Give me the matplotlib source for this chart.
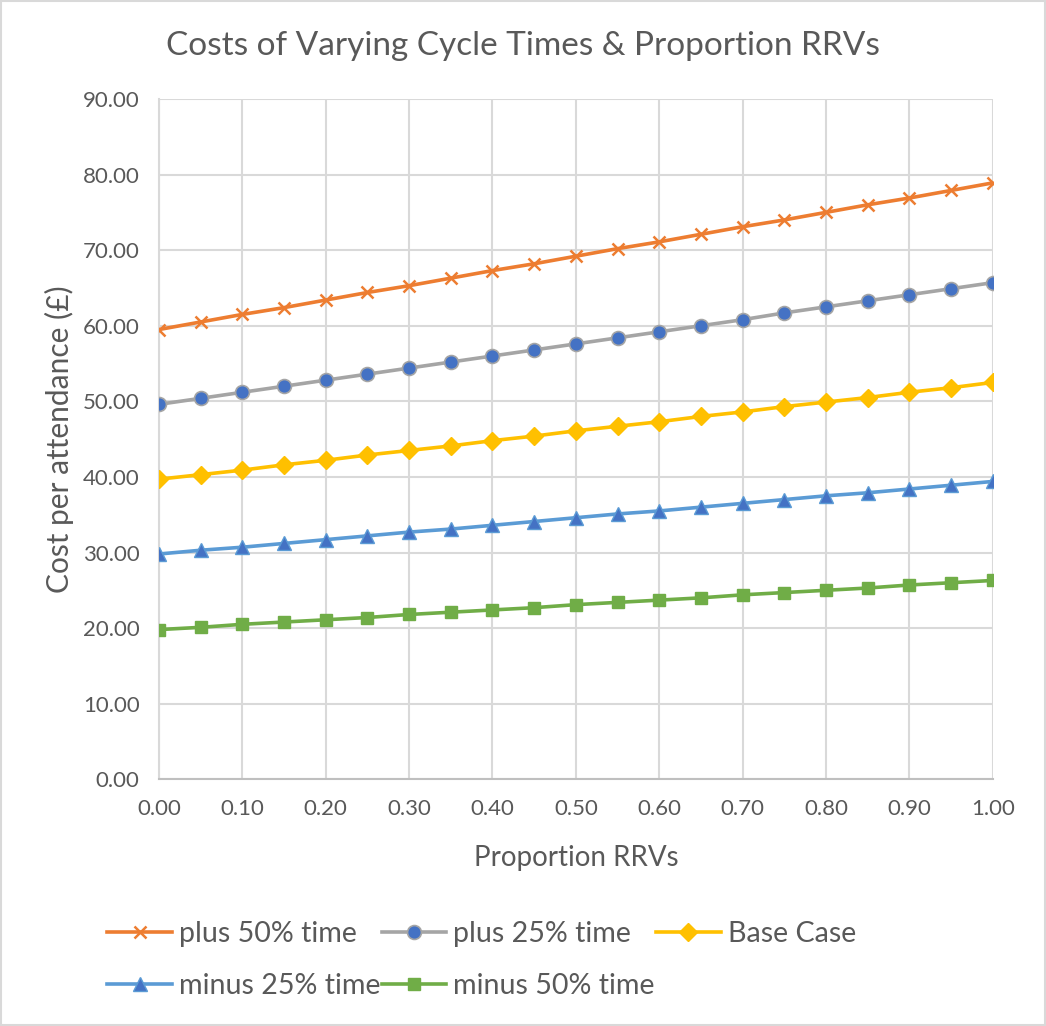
import matplotlib.pyplot as plt
import numpy as np

plt.rcParams['font.family'] = ['Lato', 'DejaVu Sans']

# proportion of RRVs (x axis)
proportion = [0.00, 0.05, 0.10, 0.15, 0.20, 0.25, 0.30, 0.35, 0.40, 0.45, 0.50,
              0.55, 0.60, 0.65, 0.70, 0.75, 0.80, 0.85, 0.90, 0.95, 1.00]

plus_50 = [59.5, 60.5, 61.5, 62.4, 63.4, 64.4, 65.3, 66.3, 67.3, 68.2, 69.2,
           70.2, 71.1, 72.1, 73.1, 74.0, 75.0, 76.0, 76.9, 77.9, 78.9]
plus_25 = [49.6, 50.4, 51.2, 52.0, 52.8, 53.6, 54.4, 55.2, 56.0, 56.8, 57.6,
           58.4, 59.2, 60.0, 60.8, 61.7, 62.5, 63.3, 64.1, 64.9, 65.7]
base_case = [39.7, 40.3, 40.9, 41.6, 42.2, 42.9, 43.5, 44.1, 44.8, 45.4, 46.1,
             46.7, 47.3, 48.0, 48.6, 49.3, 49.9, 50.5, 51.2, 51.8, 52.5]
minus_25 = [29.8, 30.3, 30.7, 31.2, 31.7, 32.2, 32.7, 33.1, 33.6, 34.1, 34.6,
            35.1, 35.5, 36.0, 36.5, 37.0, 37.5, 37.9, 38.4, 38.9, 39.4]
minus_50 = [19.8, 20.1, 20.5, 20.8, 21.1, 21.4, 21.8, 22.1, 22.4, 22.7, 23.1,
            23.4, 23.7, 24.0, 24.4, 24.7, 25.0, 25.3, 25.7, 26.0, 26.3]

x_ticks = [0.0, 0.1, 0.2, 0.3, 0.4, 0.5, 0.6, 0.7, 0.8, 0.9, 1.0]
y_ticks = [0, 10, 20, 30, 40, 50, 60, 70, 80, 90]

txt = '#595959'
grid = '#D9D9D9'

fig = plt.figure(figsize=(10.46, 10.26), dpi=100)
ax = fig.add_axes([0.152, 0.2405, 0.797, 0.663])

ax.plot(proportion, plus_50, color='#ED7D31', lw=2.6, marker='x', ms=9,
        mew=1.8, mec='#ED7D31', label='plus 50% time', zorder=3)
ax.plot(proportion, plus_25, color='#A5A5A5', lw=2.6, marker='o', ms=10,
        mfc='#4472C4', mec='#A5A5A5', mew=1.2, label='plus 25% time', zorder=3)
ax.plot(proportion, base_case, color='#FFC000', lw=2.6, marker='D', ms=9,
        mfc='#FFC000', mec='#FFC000', label='Base Case', zorder=3)
ax.plot(proportion, minus_25, color='#5B9BD5', lw=2.6, marker='^', ms=10,
        mfc='#4472C4', mec='#5B9BD5', mew=1, label='minus 25% time', zorder=3)
ax.plot(proportion, minus_50, color='#70AD47', lw=2.6, marker='s', ms=9,
        mfc='#70AD47', mec='#70AD47', label='minus 50% time', zorder=3)

ax.set_xlim(0, 1)
ax.set_ylim(0, 90)
ax.set_xticks(x_ticks)
ax.set_yticks(y_ticks)
ax.set_xticklabels(['%.2f' % v for v in x_ticks])
ax.set_yticklabels(['%.2f' % v for v in y_ticks])
ax.tick_params(length=0, labelsize=16, colors=txt)
ax.tick_params(axis='y', pad=14)
ax.tick_params(axis='x', pad=14)
ax.grid(True, color=grid, lw=1.5)
ax.set_axisbelow(True)
for s in ['top', 'right']:
    ax.spines[s].set_visible(False)
ax.spines['left'].set_color(grid)
ax.spines['left'].set_linewidth(1.5)
ax.spines['bottom'].set_color('#BFBFBF')
ax.spines['bottom'].set_linewidth(1.5)

ax.set_xlabel('Proportion RRVs', fontsize=20, color=txt, labelpad=19)
ax.set_ylabel('Cost per attendance (£)', fontsize=21.5, color=txt, labelpad=6)
fig.text(0.5, 0.955, 'Costs of Varying Cycle Times & Proportion RRVs',
         ha='center', va='center', fontsize=24, color=txt)

# legend filled row by row like Excel
handles, labels = ax.get_legend_handles_labels()
order = [0, 3, 1, 4, 2]
fig.legend([handles[i] for i in order], [labels[i] for i in order],
           loc='upper left', bbox_to_anchor=(0.078, 0.127),
           ncol=3, frameon=False, fontsize=20.6, handlelength=2.25,
           handletextpad=0.25, columnspacing=0.05, labelspacing=0.88,
           labelcolor=txt)

# outer chart border
fig.patches.append(plt.Rectangle((0.001, 0.001), 0.998, 0.998,
                                 transform=fig.transFigure, fill=False,
                                 ec='#D9D9D9', lw=1.5))

fig.savefig('out.png', dpi=100)
